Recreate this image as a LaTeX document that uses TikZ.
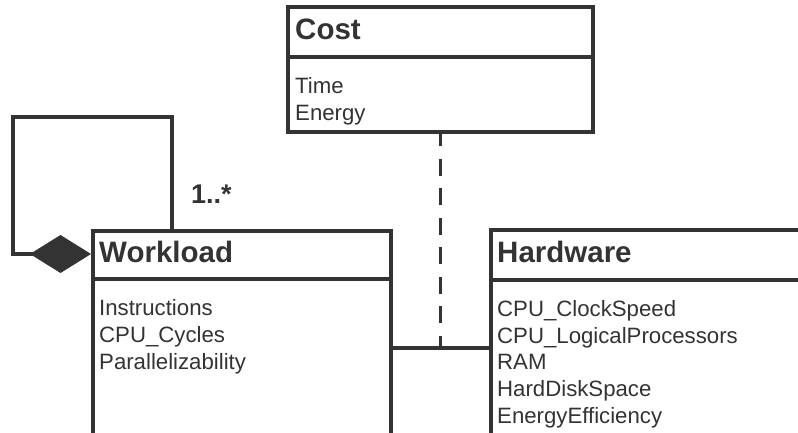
\documentclass[tikz,border=0pt]{standalone}
\usepackage{fontspec}
\setmainfont{Liberation Sans}
\usetikzlibrary{arrows.meta}
\definecolor{ink}{HTML}{333333}
\begin{document}
\begin{tikzpicture}[x=1pt,y=-1pt,
  classbox/.style={draw=ink, line width=3.8pt, rectangle, inner sep=0pt, anchor=north west},
  title/.style={font=\bfseries\fontsize{29.5}{34}\selectfont, anchor=base west, inner sep=0pt, text=ink},
  attr/.style={font=\fontsize{22.2}{26}\selectfont, anchor=base west, inner sep=0pt, text=ink},
  mult/.style={font=\bfseries\fontsize{27}{32}\selectfont, anchor=base west, inner sep=0pt, text=ink},
  wire/.style={draw=ink, line width=3.8pt}]
\useasboundingbox (0,0) rectangle (798,432);
\clip (0,0) rectangle (798,432);

% class boxes
\node[classbox, minimum width=305pt, minimum height=125pt] (cost) at (286,5) {};
\node[classbox, minimum width=298pt, minimum height=300pt] (work) at (91,229) {};
\node[classbox, minimum width=400pt, minimum height=300pt] (hw) at (489,228) {};

% header dividers
\draw[wire] (cost.west |- 0,57) -- (cost.east |- 0,57);
\draw[wire] (work.west |- 0,279) -- (work.east |- 0,279);
\draw[wire] (hw.west |- 0,280) -- (hw.east |- 0,280);

% titles
\node[title] (costT) at (295,39) {Cost};
\node[title] (workT) at (99,262) {Workload};
\node[title] (hwT) at (497,262) {Hardware};

% attributes
\node[attr] (c1) at (295,93) {Time};
\node[attr] (c2) at (295,120) {Energy};

\node[attr] (w1) at (99,315) {Instructions};
\node[attr] (w2) at (99,342) {CPU\_Cycles};
\node[attr] (w3) at (99,369) {Parallelizability};

\node[attr] (h1) at (497,316) {CPU\_ClockSpeed};
\node[attr] (h2) at (497,343) {CPU\_LogicalProcessors};
\node[attr] (h3) at (497,369.5) {RAM};
\node[attr] (h4) at (497,396) {HardDiskSpace};
\node[attr] (h5) at (497,423) {EnergyEfficiency};

% association between Workload and Hardware, with the dashed class link from Cost
\coordinate (j) at (440,348);
\draw[wire] (work.east |- j) -- (hw.west |- j);
\draw[wire, dash pattern=on 17pt off 12.5pt, dash phase=4.5pt] (cost.south) -- (cost.south |- j);

% self composition of Workload
\coordinate (la) at (172,117);
\coordinate (lb) at (13,117);
\coordinate (tip) at (91,254);
\draw[wire, line join=miter, -{Diamond[length=61pt,width=38pt,fill=ink]}]
  (work.north west -| la) -- (la) -- (lb) |- (tip);
\node[mult] (m) at (191,203) {1..*};
\end{tikzpicture}
\end{document}
